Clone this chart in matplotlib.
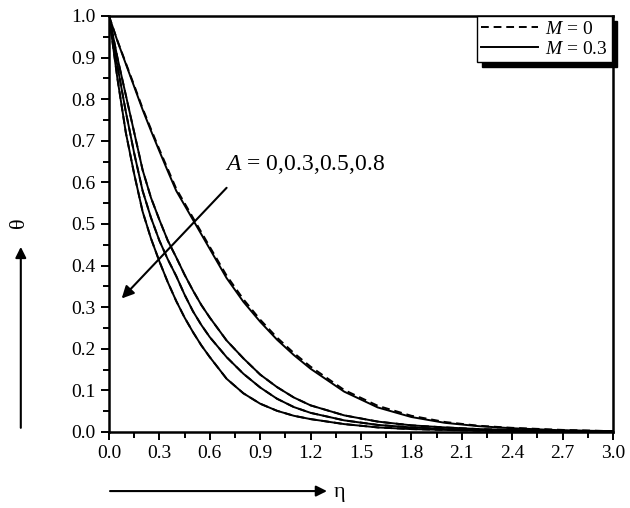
import numpy as np
import matplotlib
matplotlib.use("Agg")
import matplotlib.pyplot as plt
from matplotlib.patches import Rectangle
from matplotlib.ticker import MultipleLocator, FormatStrFormatter

plt.rcParams.update(
    {
        "font.family": "Liberation Serif",
        "mathtext.fontset": "custom",
        "mathtext.rm": "Liberation Serif",
        "mathtext.it": "Liberation Serif:italic",
        "xtick.labelsize": 14,
        "ytick.labelsize": 14,
    }
)

################### DATA ###################

eta = [0.0, 0.05, 0.1, 0.15, 0.2, 0.25, 0.3, 0.35, 0.4, 0.45, 0.5, 0.55, 0.6,
       0.7, 0.8, 0.9, 1.0, 1.1, 1.2, 1.4, 1.6, 1.8, 2.0, 2.2, 2.4, 2.7, 3.0]

# M = 0.3 (solid)
theta_A0 = [1.0, 0.94, 0.885, 0.83, 0.775, 0.724, 0.675, 0.627, 0.58, 0.545, 0.51,
            0.475, 0.44, 0.37, 0.313, 0.265, 0.222, 0.185,
            0.152, 0.097, 0.059, 0.036, 0.022, 0.014, 0.009, 0.004, 0.002]
theta_A03 = [1.0, 0.90, 0.81, 0.72, 0.63, 0.563, 0.51, 0.46, 0.42, 0.378, 0.34,
             0.305, 0.275, 0.22, 0.177, 0.138, 0.108, 0.083,
             0.064, 0.04, 0.025, 0.016, 0.011, 0.007, 0.005, 0.003, 0.002]
theta_A05 = [1.0, 0.88, 0.77, 0.67, 0.58, 0.515, 0.46, 0.415, 0.375, 0.33, 0.29,
             0.257, 0.228, 0.18, 0.14, 0.107, 0.08, 0.06,
             0.046, 0.028, 0.017, 0.011, 0.007, 0.005, 0.003, 0.002, 0.001]
theta_A08 = [1.0, 0.85, 0.72, 0.62, 0.53, 0.465, 0.41, 0.36, 0.315, 0.275, 0.24,
             0.208, 0.18, 0.128, 0.093, 0.068, 0.051, 0.039,
             0.031, 0.019, 0.011, 0.007, 0.005, 0.003, 0.002, 0.001, 0.001]

# M = 0 (dashed)
theta0_A0 = [1.0, 0.941, 0.887, 0.833, 0.778, 0.728, 0.679, 0.632, 0.585, 0.55, 0.515,
             0.48, 0.445, 0.376, 0.319, 0.27, 0.227, 0.19,
             0.157, 0.101, 0.063, 0.039, 0.024, 0.015, 0.01, 0.005, 0.002]
theta0_A03 = [1.0, 0.90, 0.81, 0.72, 0.63, 0.563, 0.51, 0.46, 0.42, 0.378, 0.34,
              0.305, 0.275, 0.22, 0.177, 0.138, 0.108, 0.083,
              0.064, 0.04, 0.025, 0.016, 0.011, 0.007, 0.005, 0.003, 0.002]
theta0_A05 = [1.0, 0.88, 0.77, 0.67, 0.58, 0.515, 0.46, 0.415, 0.375, 0.33, 0.29,
              0.257, 0.228, 0.18, 0.14, 0.107, 0.08, 0.06,
              0.046, 0.028, 0.017, 0.011, 0.007, 0.005, 0.003, 0.002, 0.001]
theta0_A08 = [1.0, 0.85, 0.72, 0.62, 0.53, 0.465, 0.41, 0.36, 0.315, 0.275, 0.24,
              0.208, 0.18, 0.128, 0.093, 0.068, 0.051, 0.039,
              0.031, 0.019, 0.011, 0.007, 0.005, 0.003, 0.002, 0.001, 0.001]

annot_text = "$A$ = 0,0.3,0.5,0.8"

################### FIGURE ###################

fig = plt.figure(figsize=(6.3, 5.08), dpi=100)
ax = fig.add_axes((109 / 630, 76 / 508, 504 / 630, 416 / 508))

for axe in ["left", "bottom", "top", "right"]:
    ax.spines[axe].set_linewidth(1.8)

lw = 1.4
for th in [theta0_A0, theta0_A03, theta0_A05, theta0_A08]:
    ax.plot(eta, th, color="k", lw=lw, ls=(0, (4, 2.5)))
for th in [theta_A0, theta_A03, theta_A05, theta_A08]:
    ax.plot(eta, th, color="k", lw=lw)

ax.set_xlim(0, 3.0)
ax.set_ylim(0, 1.0)
ax.xaxis.set_major_locator(MultipleLocator(0.3))
ax.xaxis.set_minor_locator(MultipleLocator(0.15))
ax.yaxis.set_major_locator(MultipleLocator(0.1))
ax.yaxis.set_minor_locator(MultipleLocator(0.05))
ax.xaxis.set_major_formatter(FormatStrFormatter("%.1f"))
ax.yaxis.set_major_formatter(FormatStrFormatter("%.1f"))
ax.tick_params(which="both", direction="out", top=False, right=False, width=1.4)
ax.tick_params(which="major", length=6)
ax.tick_params(which="minor", length=4)

# legend
h_dash, = ax.plot([], [], color="k", lw=lw, ls=(0, (4, 2.5)))
h_solid, = ax.plot([], [], color="k", lw=lw)
leg = ax.legend(
    [h_dash, h_solid], ["$M$ = 0", "$M$ = 0.3"],
    loc="upper right", bbox_to_anchor=(0.998, 1.0), fontsize=14,
    handlelength=2.9, handletextpad=0.4, borderpad=0.2, labelspacing=0.15,
    fancybox=False, edgecolor="k", framealpha=1, borderaxespad=0,
)
leg.get_frame().set_linewidth(1.0)
leg.set_zorder(6)

fig.canvas.draw()
bb = leg.get_window_extent().transformed(ax.transAxes.inverted())
ax.add_patch(
    Rectangle((bb.x0 + 5 / 504, bb.y0 - 5 / 416), bb.width, bb.height,
              transform=ax.transAxes, color="k", clip_on=False, zorder=5.5)
)

# annotation arrow
ax.annotate(
    "", xy=(0.0756, 0.321), xytext=(0.70, 0.587),
    arrowprops=dict(arrowstyle="-|>", color="k", lw=1.5, mutation_scale=18,
                    shrinkA=0, shrinkB=0),
)
ax.text(0.69, 0.642, annot_text, fontsize=17, ha="left", va="center")

# axis labels with arrows
ax.annotate(
    "", xy=(-0.175, 0.445), xytext=(-0.175, 0.01), xycoords="axes fraction",
    arrowprops=dict(arrowstyle="-|>", color="k", lw=1.5, mutation_scale=16,
                    shrinkA=0, shrinkB=0),
    annotation_clip=False,
)
ax.text(-0.178, 0.502, "θ", fontsize=16, rotation=90, ha="center", va="center",
        transform=ax.transAxes)

ax.annotate(
    "", xy=(0.4325, -0.142), xytext=(0.002, -0.142), xycoords="axes fraction",
    arrowprops=dict(arrowstyle="-|>", color="k", lw=1.5, mutation_scale=16,
                    shrinkA=0, shrinkB=0),
    annotation_clip=False,
)
ax.text(0.458, -0.145, "η", fontsize=16, ha="center", va="center",
        transform=ax.transAxes)

fig.savefig("out.png", dpi=100)
